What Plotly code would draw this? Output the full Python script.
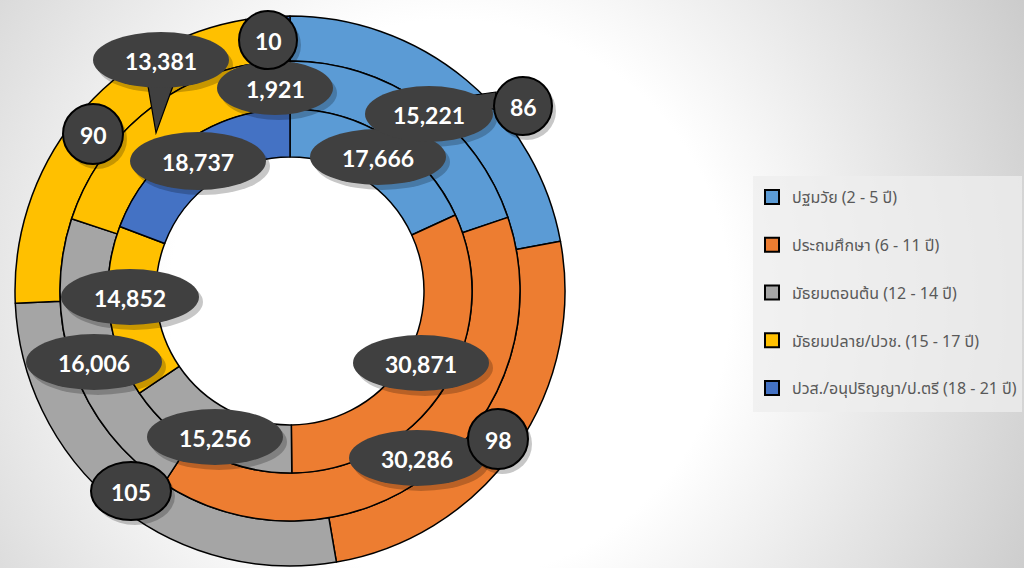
import base64
import plotly.graph_objects as go

# ---------------- data ----------------
categories = ["ปฐมวัย (2 - 5 ปี)", "ประถมศึกษา (6 - 11 ปี)", "มัธยมตอนต้น (12 - 14 ปี)",
              "มัธยมปลาย/ปวช. (15 - 17 ปี)", "ปวส./อนุปริญญา/ป.ตรี (18 - 21 ปี)"]
inner_values = [17666, 30871, 15256, 14852, 18737]
middle_values = [15221, 30286, 16006, 13381, 1921]
outer_values = [86, 98, 105, 90, 10]
colors = ["#5B9BD5", "#ED7D31", "#A5A5A5", "#FFC000", "#4472C4"]

W, H = 1024, 568
CX, CY = 290, 291
R_OUT, R_MID, R_IN, R_HOLE = 275, 230, 182, 134


def dom(r):
    return dict(x=[(CX - r) / W, (CX + r) / W], y=[1 - (CY + r) / H, 1 - (CY - r) / H])


fig = go.Figure()
for vals, r, hole in [(outer_values, R_OUT, R_MID / R_OUT),
                      (middle_values, R_MID, R_IN / R_MID),
                      (inner_values, R_IN, R_HOLE / R_IN)]:
    fig.add_trace(go.Pie(labels=categories, values=vals, hole=hole, sort=False,
                         direction="clockwise", rotation=0, domain=dom(r),
                         marker=dict(colors=colors, line=dict(color="black", width=1.5)),
                         textinfo="none", showlegend=False))

# legend entries
for i, (c, col) in enumerate(zip(categories, colors)):
    fig.add_trace(go.Scatter(x=[None], y=[None], mode="markers", name=c, legendgroup=f"g{i}",
                             marker=dict(symbol="square", size=14, color=col,
                                         line=dict(color="black", width=2))))

# ---------------- label bubbles ----------------
# (text, cx, cy, rx, ry, outlined)
bubbles = [
    (f"{inner_values[0]:,}", 378, 157, 68, 28, False),
    (f"{inner_values[1]:,}", 421, 363, 68, 28, False),
    (f"{inner_values[2]:,}", 215, 437, 68, 28, False),
    (f"{inner_values[3]:,}", 130, 297, 69, 28, False),
    (f"{inner_values[4]:,}", 198, 161, 68, 29, False),
    (f"{middle_values[0]:,}", 429, 114, 64, 28, False),
    (f"{middle_values[1]:,}", 417, 458, 68, 28, False),
    (f"{middle_values[2]:,}", 94, 362, 68, 28, False),
    (f"{middle_values[3]:,}", 161, 60, 68, 28, False),
    (f"{middle_values[4]:,}", 275, 88, 58, 27, False),
    (f"{outer_values[0]:,}", 523, 106, 29, 29, True),
    (f"{outer_values[1]:,}", 498, 439, 30, 30, True),
    (f"{outer_values[2]:,}", 131, 491, 40, 29, True),
    (f"{outer_values[3]:,}", 93, 134, 30, 30, True),
    (f"{outer_values[4]:,}", 268, 40, 29, 29, True),
]

BUB = "#404040"
shapes = []
annotations = []
# pointers
pointers = [
    "M 148 86 L 173 86 L 156 133 Z",
    "M 496 92 L 453 98 L 496 110 Z",
]
for text, bx, by, rx, ry, outlined in bubbles:
    shapes.append(dict(type="circle", xref="x", yref="y", x0=bx - rx + 4, x1=bx + rx + 4,
                       y0=by - ry + 5, y1=by + ry + 5, fillcolor="rgba(0,0,0,0.22)",
                       line=dict(width=0), layer="above"))
for p in pointers:
    shapes.append(dict(type="path", path=p, xref="x", yref="y", fillcolor=BUB,
                       line=dict(color="black", width=1.2), layer="above"))
for text, bx, by, rx, ry, outlined in bubbles:
    shapes.append(dict(type="circle", xref="x", yref="y", x0=bx - rx, x1=bx + rx,
                       y0=by - ry, y1=by + ry, fillcolor=BUB,
                       line=dict(color="black", width=2 if outlined else 0), layer="above"))
    annotations.append(dict(x=bx, y=by + 1, xref="x", yref="y", text=f"<b>{text}</b>",
                            showarrow=False, font=dict(family="Lato", size=23, color="white"),
                            xanchor="center", yanchor="middle"))

# legend box
shapes.append(dict(type="rect", xref="x", yref="y", x0=753, x1=1022, y0=176, y1=412,
                   fillcolor="rgba(238,238,238,0.75)", line=dict(width=0), layer="below"))

svg = f"""<svg xmlns='http://www.w3.org/2000/svg' width='{W}' height='{H}' viewBox='0 0 {W} {H}' preserveAspectRatio='none'>
<defs><radialGradient id='g' cx='450' cy='300' r='700' gradientUnits='userSpaceOnUse'>
<stop offset='0' stop-color='#ffffff'/><stop offset='0.4' stop-color='#ffffff'/>
<stop offset='1' stop-color='#c4c4c4'/></radialGradient></defs>
<rect x='0' y='0' width='{W}' height='{H}' fill='url(#g)'/></svg>"""
src = "data:image/svg+xml;base64," + base64.b64encode(svg.encode()).decode()

fig.update_layout(
    width=W, height=H, margin=dict(l=0, r=0, t=0, b=0),
    paper_bgcolor="white", plot_bgcolor="rgba(0,0,0,0)",
    xaxis=dict(range=[0, W], visible=False, domain=[0, 1], fixedrange=True),
    yaxis=dict(range=[H, 0], visible=False, domain=[0, 1], fixedrange=True),
    images=[dict(source=src, xref="paper", yref="paper", x=0, y=1, sizex=1, sizey=1,
                 sizing="stretch", layer="below", xanchor="left", yanchor="top")],
    shapes=shapes, annotations=annotations,
    legend=dict(x=752 / W, y=1 - 180 / H, xanchor="left", yanchor="top",
                bgcolor="rgba(0,0,0,0)", tracegroupgap=24,
                font=dict(family="Tahoma, Noto Sans Thai, Noto Sans, DejaVu Sans", size=16, color="#595959")),
    showlegend=True,
)

fig.write_html("out.html", config={"displayModeBar": False},
               post_script="document.body.style.margin='0';document.body.style.overflow='hidden';")
